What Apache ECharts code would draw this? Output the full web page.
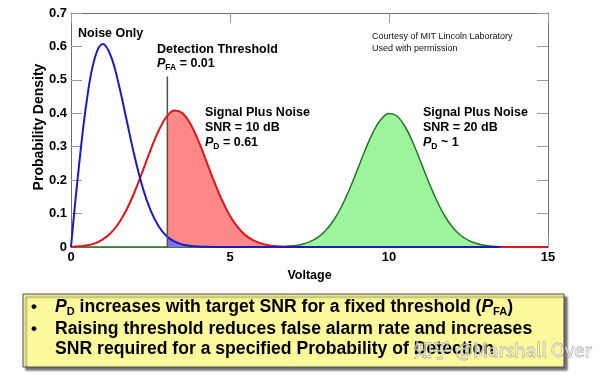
<!DOCTYPE html>
<html><head><meta charset="utf-8">
<script src="https://cdn.jsdelivr.net/npm/echarts@6/dist/echarts.min.js"></script>
<style>html,body{margin:0;padding:0;background:#fff}#c{width:600px;height:375px}</style>
</head><body><div id="c"></div>
<script>
// ---- data ----
const voltage = [0,0.25,0.5,0.75,1,1.25,1.5,1.75,2,2.25,2.5,2.75,3,3.25,3.5,3.75,4,4.25,4.5,4.75,5,5.25,5.5,5.75,6,6.25,6.5,6.75,7,7.25,7.5,7.75,8,8.25,8.5,8.75,9,9.25,9.5,9.75,10,10.25,10.5,10.75,11,11.25,11.5,11.75,12,12.25,12.5,12.75,13,13.25,13.5,13.75,14,14.25,14.5,14.75,15];
const noiseOnly = [0,0.242,0.441,0.566,0.607,0.572,0.487,0.379,0.271,0.179,0.110,0.063,0.033,0.0165,0.0077,0.0033,0.0013,0.0005,0.0002,0.0001,
  0,0,0,0,0,0,0,0,0,0,0,0,0,0,0,0,0,0,0,0,0,0,0,0,0,0,0,0,0,0,0,0,0,0,0];
const signal10dB = [0,0.002,0.005,0.011,0.023,0.042,0.071,0.112,0.165,0.226,0.290,0.347,0.389,0.408,0.401,0.369,0.319,0.258,0.196,0.140,0.093,0.059,0.034,0.019,0.010,0.0048,0.0022,0.0009,0.0004,0.0001,
  0,0,0,0,0,0,0,0,0,0,0,0,0,0,0,0,0,0,0,0,0,0,0,0,0,0,0,0,0,0,0];
const signal20dB = [0,0,0,0,0,0,0,0,0,0,0,0,0,0,0,0,0,0,0,0,0,0,0,0,
  0.0001,0.0003,0.0007,0.0017,0.0037,0.0077,0.0152,0.0279,0.0484,0.0785,0.1196,0.1711,0.2299,0.2900,0.3436,0.3823,0.3995,0.3920,0.3612,0.3126,0.2541,0.1939,0.1391,0.0935,0.0592,0.0351,0.0196,0.0103,0.0051,0.0023,0.0010];
const threshold = 3.03;
const signal10AtThreshold = 0.391;
const noiseAtThreshold = 0.030;
const thresholdLineTop = 0.51;
const xTickLabels = [0,5,10,15];
const yTickLabels = [0,0.1,0.2,0.3,0.4,0.5,0.6,0.7];

// ---- build ----
const FF = '"Liberation Sans", Arial, Helvetica, sans-serif';
const pairs = ys => ys.map((y,i) => [voltage[i], y]);
const redFill = [[threshold, signal10AtThreshold]].concat(pairs(signal10dB).filter(p => p[0] > threshold));
const blueFill = [[threshold, noiseAtThreshold]].concat(pairs(noiseOnly).filter(p => p[0] > threshold));

const xMin = xTickLabels[0], xMax = xTickLabels[xTickLabels.length-1], xInt = xTickLabels[1]-xTickLabels[0];
const yMin = yTickLabels[0], yMax = yTickLabels[yTickLabels.length-1], yInt = 0.1;

const frame = '#6e6e6e', tick = '#9a9a9a';
function mkX(pos, showLabel, name) {
  return {type:'value', min:xMin, max:xMax, interval:xInt, position:pos,
    axisLine:{show:true, onZero:false, lineStyle:{color:frame, width:1}},
    axisTick:{show:true, inside:true, length:10, lineStyle:{color:tick}},
    axisLabel:{show:showLabel, color:'#000', fontWeight:'bold', fontSize:13, fontFamily:FF, margin:4},
    splitLine:{show:false},
    name: name || '', nameLocation:'middle', nameGap:18,
    nameTextStyle:{color:'#000', fontWeight:'bold', fontSize:12.5, fontFamily:FF}};
}
function mkY(pos, showLabel) {
  return {type:'value', min:yMin, max:yMax, interval:yInt, position:pos,
    axisLine:{show:true, onZero:false, lineStyle:{color:frame, width:1}},
    axisTick:{show:true, inside:true, length:11, lineStyle:{color:tick}},
    axisLabel:{show:showLabel, color:'#000', fontWeight:'bold', fontSize:13, fontFamily:FF, margin:4},
    splitLine:{show:false}};
}

const rich = {
  b:{fontSize:12.5, fontWeight:'bold', fontFamily:FF, fill:'#000', color:'#000', lineHeight:16, verticalAlign:'middle'},
  i:{fontSize:12.5, fontWeight:'bold', fontStyle:'italic', fontFamily:FF, fill:'#000', color:'#000', lineHeight:16, verticalAlign:'middle'},
  s:{fontSize:8.5, fontWeight:'bold', fontFamily:FF, fill:'#000', color:'#000', lineHeight:8, verticalAlign:'bottom'},
  B:{fontSize:17.6, fontWeight:'bold', fontFamily:FF, fill:'#000', color:'#000', lineHeight:20, verticalAlign:'middle'},
  I:{fontSize:17.6, fontWeight:'bold', fontStyle:'italic', fontFamily:FF, fill:'#000', color:'#000', lineHeight:20, verticalAlign:'middle'},
  S:{fontSize:11, fontWeight:'bold', fontFamily:FF, fill:'#000', color:'#000', lineHeight:10, verticalAlign:'bottom'}
};
function T(x, y, text, extra) {
  return Object.assign({type:'text', x:x, y:y, z:100,
    style:Object.assign({text:text, rich:rich, fill:'#000', fontFamily:FF, fontSize:12.5, fontWeight:'bold',
      align:'left', verticalAlign:'middle', textAlign:'left', textVerticalAlign:'middle'}, (extra||{}))});
}

const graphic = [
  {type:'text', x:39, y:127, rotation:Math.PI/2, z:100,
    style:{text:'Probability Density', fill:'#000', fontFamily:FF, fontSize:14, fontWeight:'bold',
      align:'center', verticalAlign:'middle', textAlign:'center', textVerticalAlign:'middle'}},
  T(78, 34, '{b|Noise Only}'),
  T(157, 50, '{b|Detection Threshold}'),
  T(157, 64, '{i|P}{s|FA}{b| = 0.01}'),
  T(205, 113, '{b|Signal Plus Noise}'),
  T(205, 128, '{b|SNR = 10 dB}'),
  T(205, 143, '{i|P}{s|D}{b| = 0.61}'),
  T(423, 113, '{b|Signal Plus Noise}'),
  T(423, 128, '{b|SNR = 20 dB}'),
  T(423, 143, '{i|P}{s|D}{b| ~ 1}'),
  T(372, 37, 'Courtesy of MIT Lincoln Laboratory', {fontSize:9, fontWeight:'normal', fill:'#111'}),
  T(372, 49, 'Used with permission', {fontSize:9, fontWeight:'normal', fill:'#111'}),
  {type:'rect', z:90, shape:{x:23, y:294, width:541, height:73},
    style:{fill:'#fcf99c', stroke:'#4a4a4a', lineWidth:1, shadowColor:'rgba(0,0,0,0.55)', shadowOffsetX:3, shadowOffsetY:3, shadowBlur:2}},
  T(31, 307, '•', {fontSize:17}),
  T(31, 329, '•', {fontSize:17}),
  T(55, 307, '{I|P}{S|D}{B| increases with target SNR for a fixed threshold (}{I|P}{S|FA}{B|)}'),
  T(55, 329, '{B|Raising threshold reduces false alarm rate and increases}'),
  T(55, 349, '{B|SNR required for a specified Probability of Detection}'),
  {type:'text', x:414, y:350, z:110, style:{text:'知乎 @Marshall Over', fontSize:18.6, fontFamily:'"Noto Sans CJK SC", ' + FF,
    fill:'rgba(255,255,255,0.6)', stroke:'rgba(130,130,130,0.8)', lineWidth:0.8,
    align:'left', verticalAlign:'middle', textAlign:'left', textVerticalAlign:'middle'}}
];

const line = (name, data, color, width, z, area) => ({
  name, type:'line', data, smooth:0.4, symbol:'none', z, xAxisIndex:0, yAxisIndex:0,
  lineStyle:{color, width}, itemStyle:{color}, areaStyle: area ? {color:area, opacity:1} : undefined, silent:true
});

const option = {
  animation:false,
  backgroundColor:'#fff',
  grid:{left:71, right:52, top:13, bottom:128, containLabel:false},
  xAxis:[mkX('bottom', true, 'Voltage'), mkX('top', false)],
  yAxis:[mkY('left', true), mkY('right', false)],
  series:[
    line('P_D fill', redFill, 'rgba(0,0,0,0)', 0, 1, '#fd8888'),
    line('Signal Plus Noise 20 dB', pairs(signal20dB), '#23752a', 1.5, 2, '#9cf59a'),
    line('P_FA fill', blueFill, 'rgba(0,0,0,0)', 0, 3, '#8270e6'),
    line('Signal Plus Noise 10 dB', pairs(signal10dB), '#e2141c', 2, 4),
    line('Noise Only', pairs(noiseOnly), '#1a1ac8', 2, 5),
    {name:'Detection Threshold', type:'line', data:[[threshold,0],[threshold,thresholdLineTop]], symbol:'none', z:6,
      lineStyle:{color:'#505050', width:1.5}, silent:true}
  ],
  graphic:graphic
};
echarts.init(document.getElementById('c'), null, {renderer:'canvas'}).setOption(option);
</script>
</body></html>
